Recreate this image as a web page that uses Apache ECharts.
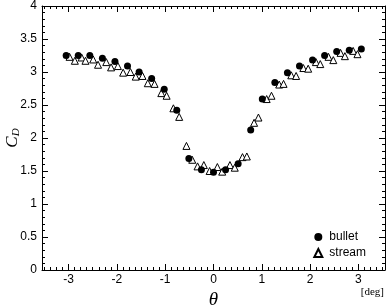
<!DOCTYPE html>
<html><head><meta charset="utf-8">
<script src="https://cdn.jsdelivr.net/npm/echarts@6/dist/echarts.min.js"></script>
<style>html,body{margin:0;padding:0;background:#fff}#c{width:388px;height:305px}</style>
</head><body><div id="c"></div>
<script>
const bulletX = [-3.05,-2.80,-2.56,-2.30,-2.04,-1.78,-1.54,-1.28,-1.02,-0.76,-0.51,-0.25,0,0.25,0.51,0.77,1.01,1.27,1.53,1.78,2.05,2.30,2.55,2.81,3.06];
const bulletY = [3.25,3.25,3.25,3.21,3.16,3.09,3.00,2.90,2.74,2.42,1.69,1.52,1.48,1.52,1.61,2.12,2.59,2.84,2.99,3.09,3.18,3.25,3.31,3.33,3.35];
const streamX = [-2.98,-2.87,-2.73,-2.65,-2.49,-2.39,-2.22,-2.12,-1.98,-1.87,-1.72,-1.61,-1.47,-1.36,-1.22,-1.08,-0.97,-0.83,-0.71,-0.56,-0.44,-0.33,-0.20,-0.08,0.08,0.18,0.34,0.44,0.60,0.69,0.84,0.93,1.10,1.20,1.36,1.45,1.61,1.71,1.86,1.96,2.12,2.21,2.38,2.48,2.63,2.72,2.89,2.98];
const streamY = [3.23,3.17,3.22,3.17,3.19,3.11,3.15,3.07,3.09,2.99,3.00,2.93,2.94,2.83,2.82,2.68,2.64,2.45,2.32,1.88,1.67,1.57,1.59,1.50,1.56,1.49,1.59,1.55,1.71,1.72,2.23,2.31,2.59,2.64,2.81,2.82,2.95,2.94,3.06,3.05,3.15,3.12,3.23,3.18,3.29,3.24,3.32,3.27];
const xTicks = [-3,-2,-1,0,1,2,3];
const xMinor = [];
for (let i = -28; i <= 28; i++) xMinor.push(i * 0.125);

const X_MIN = -3.55, X_MAX = 3.55;
const sans = 'Liberation Sans';
const serif = 'Liberation Serif';

function xAx(pos, major, labels, name) {
  return {
    type: 'value', position: pos, min: X_MIN, max: X_MAX,
    axisLine: { show: major, onZero: false, lineStyle: { color: '#000', width: 1 } },
    axisTick: { show: true, inside: true, length: major ? 6 : 3, customValues: major ? xTicks : xMinor, lineStyle: { color: '#000' } },
    axisLabel: { show: labels, customValues: xTicks, color: '#000', fontFamily: sans, fontSize: 12, margin: 4 },
    splitLine: { show: false },
    name: name || '', nameLocation: 'middle', nameGap: 20, nameMoveOverlap: false,
    nameTextStyle: { fontFamily: serif, fontStyle: 'italic', fontSize: 19, color: '#000' }
  };
}
function yAx(pos, major, labels, withName) {
  return {
    type: 'value', position: pos, min: 0, max: 4, interval: major ? 0.5 : 0.1,
    axisLine: { show: major, onZero: false, lineStyle: { color: '#000', width: 1 } },
    axisTick: { show: true, inside: true, length: major ? 6 : 3, lineStyle: { color: '#000' } },
    axisLabel: { show: labels, color: '#000', fontFamily: sans, fontSize: 12, margin: 5 },
    splitLine: { show: false },
    name: withName ? '{a|C}{b|D}' : '', nameLocation: 'middle', nameGap: 20, nameRotate: 90, nameMoveOverlap: false,
    nameTextStyle: { rich: { a: { fontFamily: serif, fontStyle: 'italic', fontSize: 17, color: '#000' }, b: { fontFamily: serif, fontStyle: 'italic', fontSize: 11, color: '#000', padding: [8, 0, 0, 0] } } }
  };
}

const chart = echarts.init(document.getElementById('c'), null, { renderer: 'canvas' });
chart.setOption({
  animation: false,
  backgroundColor: '#fff',
  grid: { left: 42, right: 3, top: 6, bottom: 35, containLabel: false, outerBoundsMode: 'none' },
  xAxis: [xAx('bottom', true, true, 'θ'), xAx('bottom', false, false), xAx('top', true, false), xAx('top', false, false)],
  yAxis: [yAx('left', true, true, true), yAx('left', false, false), yAx('right', true, false), yAx('right', false, false)],
  legend: {
    orient: 'vertical', right: 17, top: 226, itemWidth: 8, itemHeight: 8, itemGap: 4,
    textStyle: { fontFamily: sans, fontSize: 12, color: '#000', padding: [0, 0, 0, 2] },
    data: [{ name: 'bullet', icon: 'circle' }, { name: 'stream', icon: 'triangle' }]
  },
  graphic: [{ type: 'text', right: 4, top: 287, style: { text: '[deg]', font: '11px "Liberation Serif"', fill: '#000' } }],
  series: [
    { name: 'stream', type: 'scatter', symbol: 'triangle', symbolSize: 7,
      itemStyle: { color: '#fff', borderColor: '#000', borderWidth: 1, opacity: 1 },
      data: streamX.map((x, i) => [x, streamY[i]]) },
    { name: 'bullet', type: 'scatter', symbol: 'circle', symbolSize: 7,
      itemStyle: { color: '#000', opacity: 1 },
      data: bulletX.map((x, i) => [x, bulletY[i]]) }
  ]
});
</script></body></html>
